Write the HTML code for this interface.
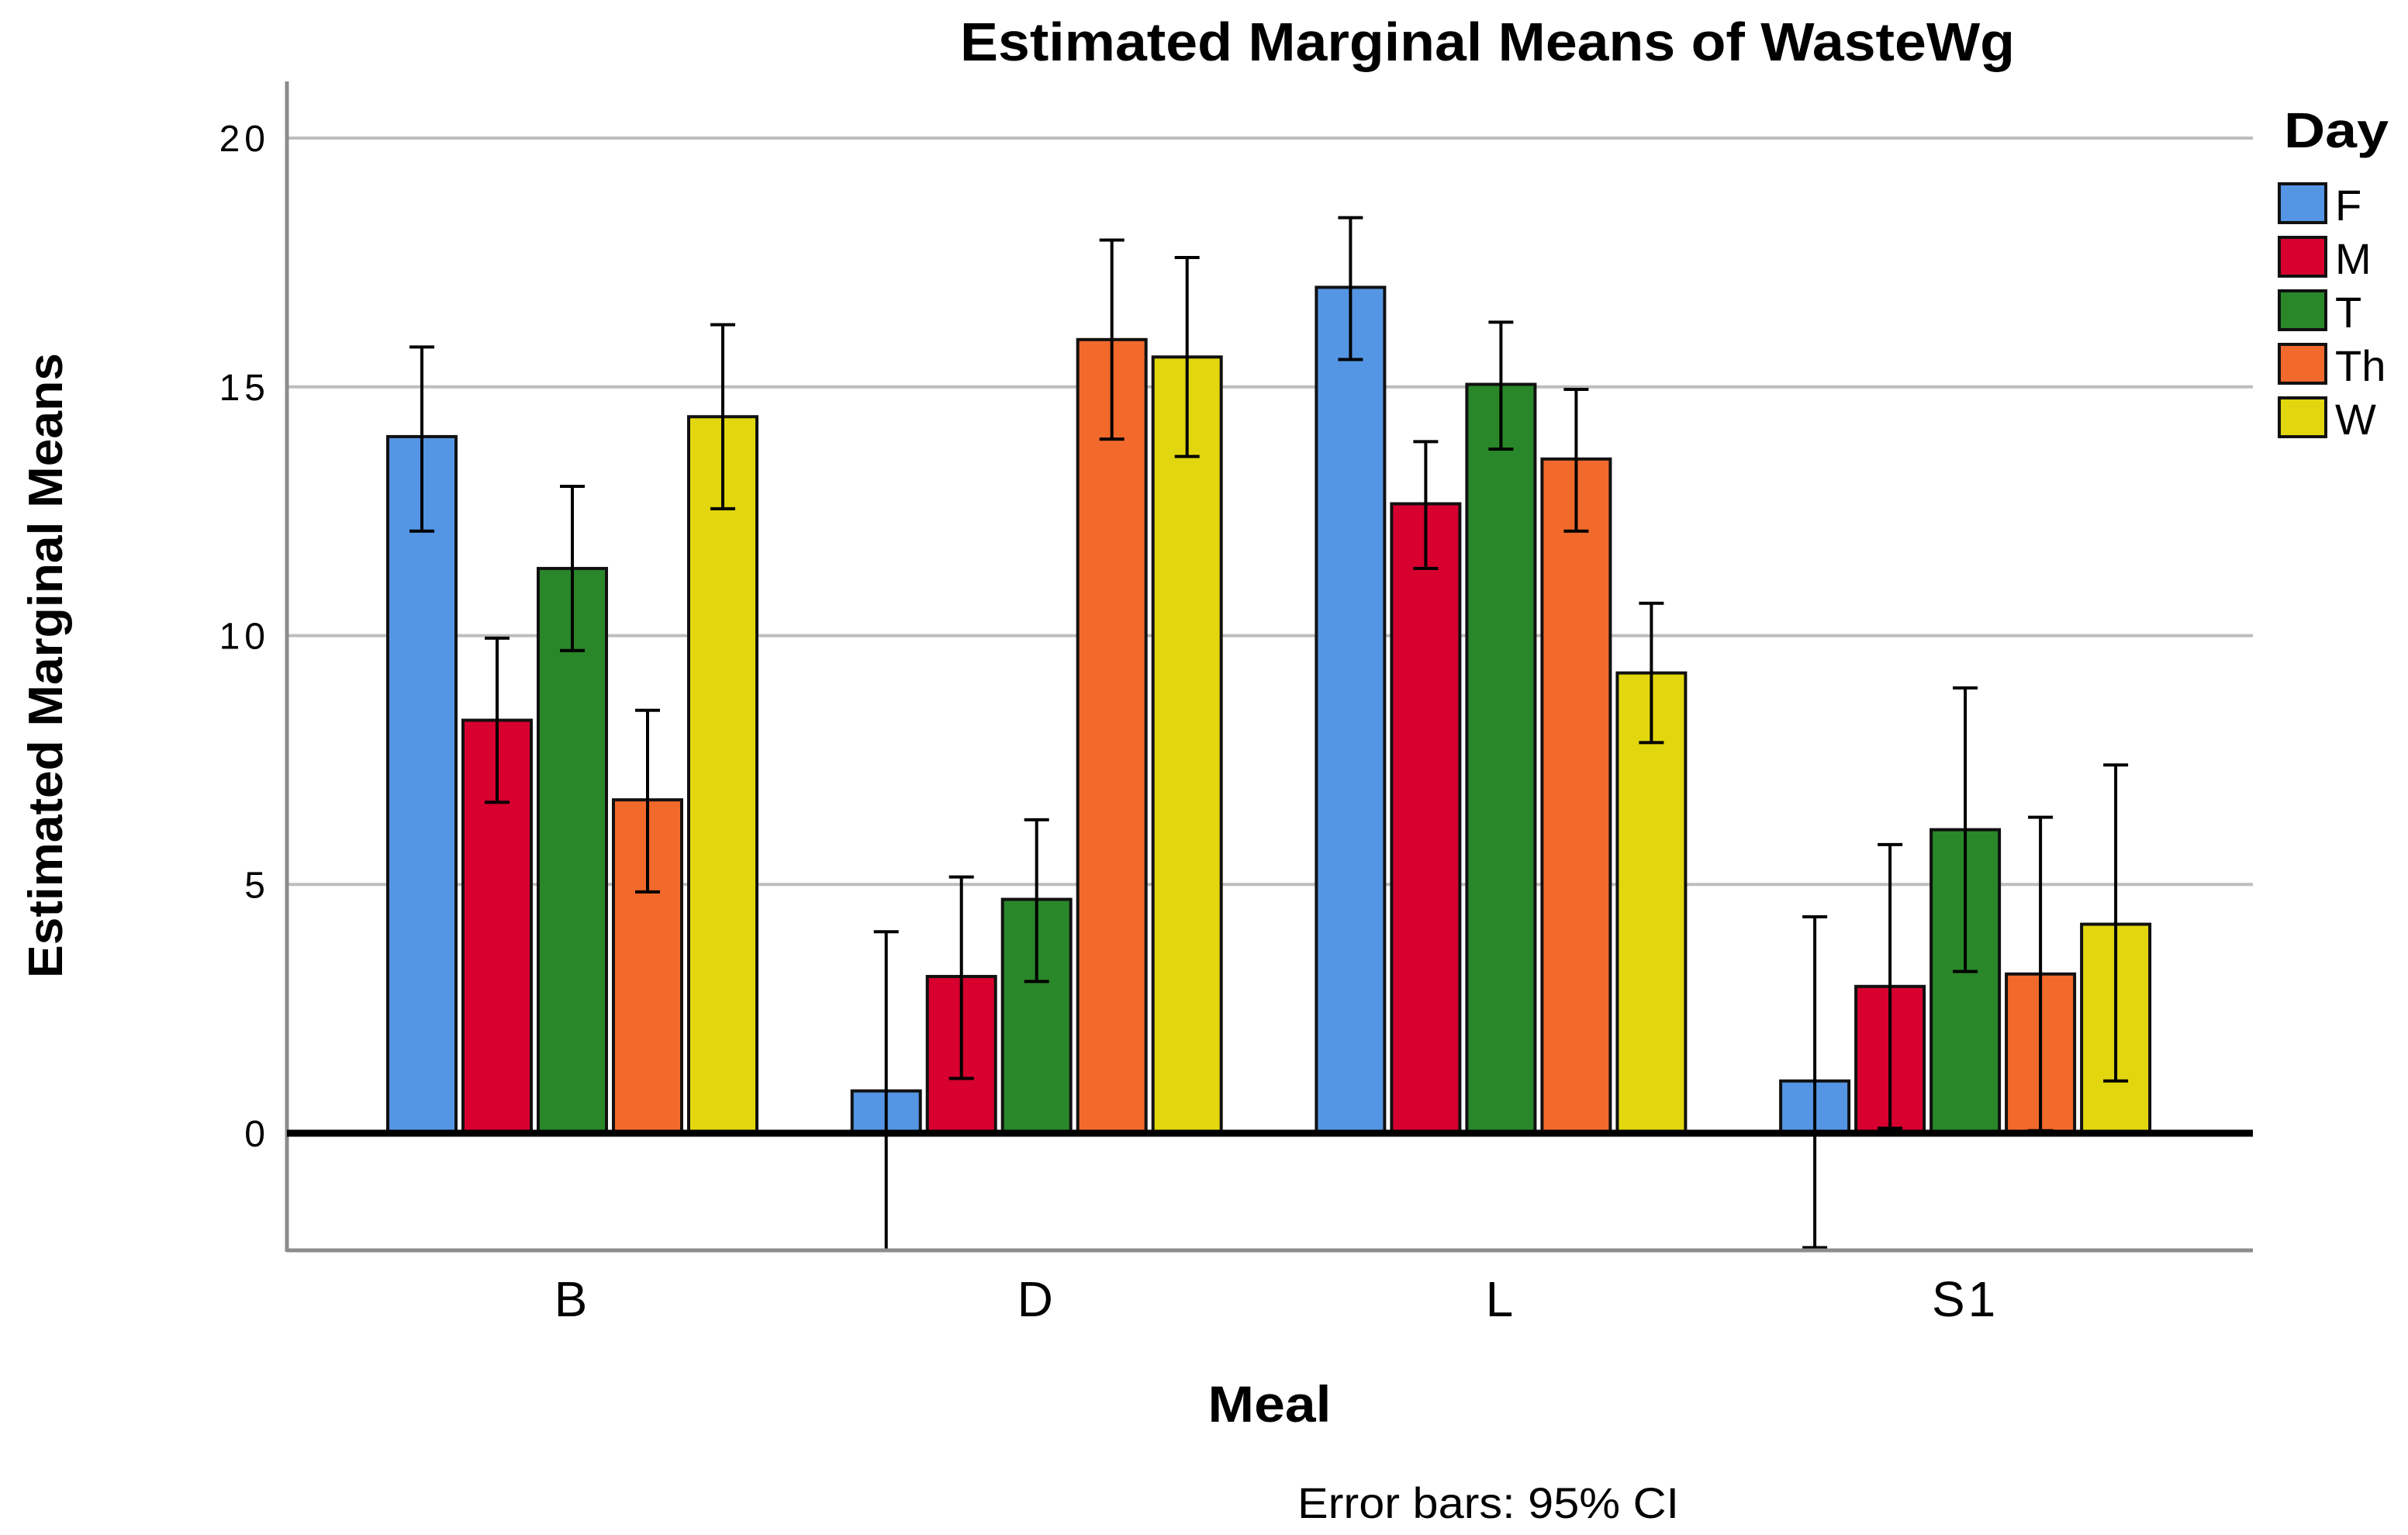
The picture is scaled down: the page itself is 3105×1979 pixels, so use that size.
<!DOCTYPE html>
<html><head><meta charset="utf-8"><style>
html,body{margin:0;padding:0;background:#fff}
svg{display:block}
text{font-family:"Liberation Sans",Arial,sans-serif;fill:#000}
</style></head><body>
<svg id="chart" width="3105" height="1979" viewBox="0 0 3105 1979">
<text x="1918" y="78" font-size="70" font-weight="bold" text-anchor="middle" textLength="1360" lengthAdjust="spacingAndGlyphs">Estimated Marginal Means of WasteWg</text>
<g id="grid"></g>
<g id="yticks"></g>
<g id="bars"></g>
<g id="axes"></g>
<g id="xticks"></g>
<text transform="translate(80,858) rotate(-90)" font-size="62" font-weight="bold" text-anchor="middle" textLength="806" lengthAdjust="spacingAndGlyphs">Estimated Marginal Means</text>
<text x="1637" y="1833" font-size="66" font-weight="bold" text-anchor="middle" textLength="159" lengthAdjust="spacingAndGlyphs">Meal</text>
<text x="1919" y="1957" font-size="56" text-anchor="middle" textLength="492" lengthAdjust="spacingAndGlyphs">Error bars: 95% CI</text>
<g id="legend">
<text x="2945" y="190" font-size="64" font-weight="bold" textLength="135" lengthAdjust="spacingAndGlyphs">Day</text>
</g>
</svg>
<script>
const categories = ["B","D","L","S1"];
const days = ["F","M","T","Th","W"];
const colors = ["#5596e4","#d7002f","#29872a","#f2692c","#e2d70e"];
const meanF = [14.0, 0.85, 17.0, 1.05];
const meanM = [8.3, 3.15, 12.65, 2.95];
const meanT = [11.35, 4.7, 15.05, 6.1];
const meanTh = [6.7, 15.95, 13.55, 3.2];
const meanW = [14.4, 15.6, 9.25, 4.2];
const upperF = [15.8, 4.05, 18.4, 4.35];
const upperM = [9.95, 5.15, 13.9, 5.8];
const upperT = [13.0, 6.3, 16.3, 8.95];
const upperTh = [8.5, 17.95, 14.95, 6.35];
const upperW = [16.25, 17.6, 10.65, 7.4];
const lowerF = [12.1, -2.4, 15.55, -2.3];
const lowerM = [6.65, 1.1, 11.35, 0.1];
const lowerT = [9.7, 3.05, 13.75, 3.25];
const lowerTh = [4.85, 13.95, 12.1, 0.05];
const lowerW = [12.55, 13.6, 7.85, 1.05];
const yTicks = [0,5,10,15,20];
const yMin = -2.37, yMax = 21.1;

const means=[meanF,meanM,meanT,meanTh,meanW];
const uppers=[upperF,upperM,upperT,upperTh,upperW];
const lowers=[lowerF,lowerM,lowerT,lowerTh,lowerW];
const NS="http://www.w3.org/2000/svg";
const L=370,R=2905,T=105,B=1612;
const y0=1461, ppu=64.15;
function y(v){return Math.max(T, Math.min(B, y0 - v*ppu));}
function xc(i){return 738 + i*598.7;}
function mk(tag,attrs,parent){const e=document.createElementNS(NS,tag);for(const k in attrs)e.setAttribute(k,attrs[k]);parent.appendChild(e);return e;}
const grid=document.getElementById('grid'),yt=document.getElementById('yticks'),bars=document.getElementById('bars'),axes=document.getElementById('axes'),xt=document.getElementById('xticks'),leg=document.getElementById('legend');
yTicks.forEach(t=>{
  if(t!==0){const g=mk('line',{x1:L,x2:R,y1:y(t),y2:y(t),stroke:'#bdbdbd','stroke-width':4},grid);
  
  }
  const tx=mk('text',{x:348,y:y(t)+17,'font-size':48,'text-anchor':'end','letter-spacing':6},yt);
  tx.textContent=t;
  
  
});
const bw=88, pitch=97;
categories.forEach((c,i)=>{
  for(let d=0;d<5;d++){
    const cx=xc(i)+(d-2)*pitch;
    const top=y(means[d][i]);
    const r=mk('rect',{x:cx-bw/2,y:top,width:bw,height:y0-top,fill:colors[d],stroke:'#111','stroke-width':4},bars);
    
    
    const yu=y(uppers[d][i]), yl=y(lowers[d][i]);
    const e=mk('g',{stroke:'#000','stroke-width':4},bars);
    
    
    mk('line',{x1:cx,x2:cx,y1:yu,y2:yl},e);
    mk('line',{x1:cx-16,x2:cx+16,y1:yu,y2:yu},e);
    mk('line',{x1:cx-16,x2:cx+16,y1:yl,y2:yl},e);
  }
  const tx=mk('text',{x:xc(i),y:1697,'font-size':64,'text-anchor':'middle','letter-spacing':4},xt);
  tx.textContent=c;
  
  
});
const ya=mk('line',{x1:L,x2:L,y1:T,y2:B+2,stroke:'#8c8c8c','stroke-width':5},axes);


const xa=mk('line',{x1:L,x2:R,y1:B,y2:B,stroke:'#8c8c8c','stroke-width':5},axes);


const zl=mk('line',{x1:L,x2:R,y1:y0,y2:y0,stroke:'#000','stroke-width':9},axes);


days.forEach((d,k)=>{
  const yy=237+k*69;
  const s=mk('rect',{x:2939,y:yy,width:60,height:50,fill:colors[k],stroke:'#111','stroke-width':4},leg);
  
  
  const t=mk('text',{x:3011,y:yy+47,'font-size':56},leg);
  t.textContent=d;
  
  
});
</script>
</body></html>
